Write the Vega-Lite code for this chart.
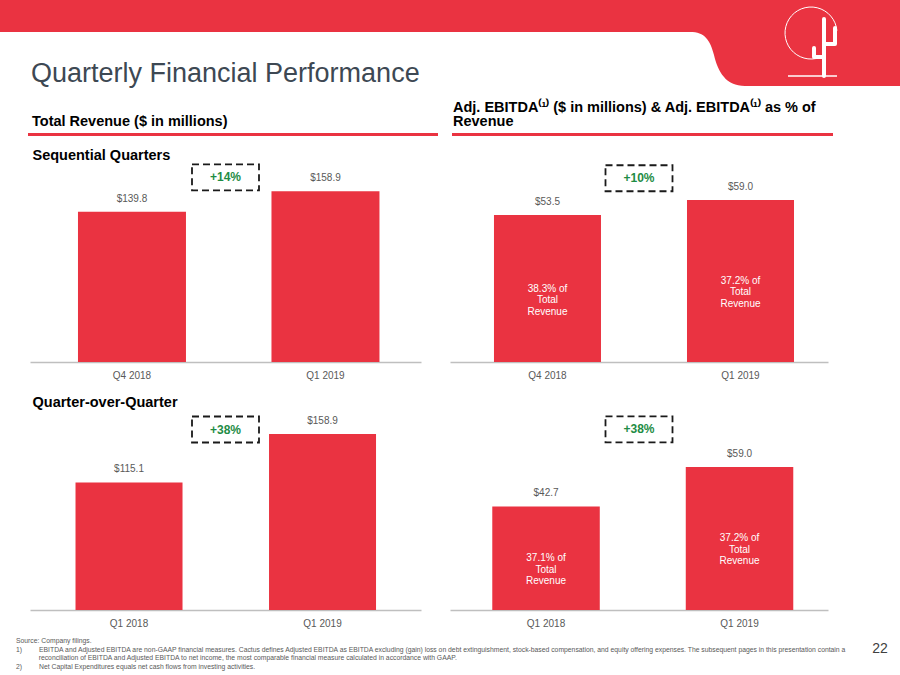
{
  "$schema": "https://vega.github.io/schema/vega-lite/v6.json",
  "padding": 0,
  "background": "white",
  "spacing": 0,
  "config": {
    "view": {"stroke": null},
    "font": "Liberation Sans",
    "text": {"fontSize": 0.1},
    "axisX": {"labelAngle": 0, "ticks": false, "tickSize": 0, "labelPadding": 8, "labelFontSize": 10, "labelColor": "#595959", "labelFont": "Liberation Sans", "domainColor": "#BFBFBF", "domainWidth": 1.5, "grid": false},
    "title": {"font": "Liberation Sans", "anchor": "start", "fontWeight": "bold", "color": "#000000"}
  },
  "vconcat": [
    {
      "hconcat": [
        {
          "width": 690, "height": 32,
          "view": {"fill": "#EA3341", "stroke": null},
          "data": {"values": [{}]},
          "mark": {"type": "text"},
          "encoding": {"text": {"value": ""}},
          "title": {"text": "Quarterly Financial Performance", "orient": "bottom", "anchor": "start", "baseline": "top", "frame": "group", "offset": 28.7, "dx": 31, "fontSize": 27, "fontWeight": "normal", "color": "#3D4853"}
        },
        {
          "width": 55, "height": 86,
          "data": {"values": [{}]},
          "mark": {"type": "point", "shape": "M-1,-1.5636L1,-1.5636L1,1.5636C0.309,1.5636 0.0182,1.0545 -0.1273,0.4364C-0.2727,-0.1091 -0.4545,-0.4 -1,-0.4Z", "size": 3025, "filled": true, "fill": "#EA3341", "strokeWidth": 0, "opacity": 1},
          "encoding": {}
        },
        {
          "width": 155, "height": 86,
          "view": {"fill": "#EA3341", "stroke": null},
          "data": {"values": [{}]},
          "layer": [
            {"mark": {"type": "point", "shape": "M-0.086,0.482A0.867,0.867 0 1 1 0.481,-0.409", "size": 3600, "filled": false, "stroke": "white", "strokeWidth": 1, "opacity": 1}, "encoding": {}},
            {"mark": {"type": "point", "shape": "M0.05,1.1L0.05,-0.8M0.05,0.033L0.417,0.033L0.417,-0.5M0.05,0.467L-0.283,0.467L-0.283,0.167", "size": 3600, "filled": false, "stroke": "white", "strokeWidth": 4, "strokeCap": "round", "strokeJoin": "round", "opacity": 1}, "encoding": {}},
            {"mark": {"type": "point", "shape": "M-1.15,1.1L0.483,1.1", "size": 3600, "filled": false, "stroke": "white", "strokeWidth": 1.5, "opacity": 1}, "encoding": {}}
          ]
        }
      ],
      "spacing": 0,
      "bounds": "flush"
    },
    {"width": 1, "height": 11.8, "data": {"values": [{}]}, "mark": {"type": "text"}, "encoding": {"text": {"value": ""}}},
    {
      "hconcat": [
        {"width": 28, "height": 3, "data": {"values": [{}]}, "mark": {"type": "text"}, "encoding": {"text": {"value": ""}}},
        {
          "width": 410, "height": 3,
          "view": {"fill": "#EA3341", "stroke": null},
          "data": {"values": [{}]},
          "mark": {"type": "text"},
          "encoding": {"text": {"value": ""}},
          "title": {"text": "Total Revenue ($ in millions)", "anchor": "start", "offset": 3.3, "dx": 4, "fontSize": 14.5, "fontWeight": "bold", "color": "#000000", "lineHeight": 14.5}
        },
        {"width": 14, "height": 3, "data": {"values": [{}]}, "mark": {"type": "text"}, "encoding": {"text": {"value": ""}}},
        {
          "width": 381, "height": 3,
          "view": {"fill": "#EA3341", "stroke": null},
          "data": {"values": [{}]},
          "mark": {"type": "text"},
          "encoding": {"text": {"value": ""}},
          "title": {"text": ["Adj. EBITDA⁽¹⁾ ($ in millions) & Adj. EBITDA⁽¹⁾ as % of", "Revenue"], "anchor": "start", "offset": 3.3, "dx": 1, "fontSize": 14.5, "fontWeight": "bold", "color": "#000000", "lineHeight": 14.5}
        }
      ],
      "spacing": 0,
      "bounds": "flush"
    },
    {"width": 1, "height": 11.2, "data": {"values": [{}]}, "mark": {"type": "text"}, "encoding": {"text": {"value": ""}}},
    {
      "hconcat": [
        {"width": 30, "height": 3, "data": {"values": [{}]}, "mark": {"type": "text"}, "encoding": {"text": {"value": ""}}},
        {
          "width": 391, "height": 198,
          "title": {"text": "Sequential Quarters", "offset": -2.9, "dx": 2.5, "fontSize": 14.5},
          "data": {"values": [{"quarter": "Q4 2018", "revenue": 139.8}, {"quarter": "Q1 2019", "revenue": 158.9}]},
          "layer": [
            {
              "mark": {"type": "bar", "color": "#EA3341"},
              "encoding": {
                "x": {"field": "quarter", "type": "nominal", "sort": null, "scale": {"paddingInner": 0.4419, "paddingOuter": 0.2313, "align": 0.536}, "axis": {"title": null}},
                "y": {"field": "revenue", "type": "quantitative", "scale": {"domain": [0, 184.2], "nice": false}, "axis": null}
              }
            },
            {
              "mark": {"type": "text", "baseline": "bottom", "dy": -8, "fontSize": 10, "color": "#595959"},
              "encoding": {
                "x": {"field": "quarter", "type": "nominal", "sort": null},
                "y": {"field": "revenue", "type": "quantitative"},
                "text": {"field": "revenue", "type": "quantitative", "format": "$.1f"}
              }
            },
            {
              "data": {"values": [{}]},
              "mark": {"type": "point", "shape": "M-1,-0.388L1,-0.388L1,0.388L-1,0.388Z", "size": 4489, "filled": false, "stroke": "#1A1A1A", "strokeWidth": 1.8, "strokeDash": [7, 4], "opacity": 1},
              "encoding": {"y": {"datum": 171.8, "type": "quantitative"}}
            },
            {
              "data": {"values": [{}]},
              "mark": {"type": "text", "text": "+14%", "fontSize": 12, "fontWeight": "bold", "color": "#1E8C45", "baseline": "middle"},
              "encoding": {"y": {"datum": 171.8, "type": "quantitative"}}
            }
          ]
        },
        {"width": 29, "height": 3, "data": {"values": [{}]}, "mark": {"type": "text"}, "encoding": {"text": {"value": ""}}},
        {
          "width": 378, "height": 198,
          "title": {"text": " ", "offset": -2.9, "fontSize": 14.5},
          "data": {"values": [{"quarter": "Q4 2018", "ebitda": 53.5, "margin": "38.3% of\nTotal\nRevenue"}, {"quarter": "Q1 2019", "ebitda": 59.0, "margin": "37.2% of\nTotal\nRevenue"}]},
          "resolve": {"scale": {"y": "independent"}},
          "layer": [
            {
              "mark": {"type": "bar", "color": "#EA3341"},
              "encoding": {
                "x": {"field": "quarter", "type": "nominal", "sort": null, "scale": {"paddingInner": 0.4456, "paddingOuter": 0.202, "align": 0.564}, "axis": {"title": null}},
                "y": {"field": "ebitda", "type": "quantitative", "scale": {"domain": [0, 72.08], "nice": false}, "axis": null}
              }
            },
            {
              "mark": {"type": "text", "baseline": "bottom", "dy": -8, "fontSize": 10, "color": "#595959"},
              "encoding": {
                "x": {"field": "quarter", "type": "nominal", "sort": null},
                "y": {"field": "ebitda", "type": "quantitative", "scale": {"domain": [0, 72.08], "nice": false}, "axis": null},
                "text": {"field": "ebitda", "type": "quantitative", "format": "$.1f"}
              }
            },
            {
              "mark": {"type": "text", "baseline": "middle", "fontSize": 10, "color": "#FFFFFF", "lineBreak": "\n", "lineHeight": 11.5},
              "encoding": {
                "x": {"field": "quarter", "type": "nominal", "sort": null},
                "y": {"field": "ebitda", "type": "quantitative", "scale": {"domain": [0, 144.16], "nice": false}, "axis": null},
                "text": {"field": "margin", "type": "nominal"}
              }
            },
            {
              "data": {"values": [{}]},
              "mark": {"type": "point", "shape": "M-1,-0.388L1,-0.388L1,0.388L-1,0.388Z", "size": 4489, "filled": false, "stroke": "#1A1A1A", "strokeWidth": 1.8, "strokeDash": [7, 4], "opacity": 1},
              "encoding": {"y": {"datum": 66.9, "type": "quantitative", "scale": {"domain": [0, 72.08], "nice": false}, "axis": null}}
            },
            {
              "data": {"values": [{}]},
              "mark": {"type": "text", "text": "+10%", "fontSize": 12, "fontWeight": "bold", "color": "#1E8C45", "baseline": "middle"},
              "encoding": {"y": {"datum": 66.9, "type": "quantitative", "scale": {"domain": [0, 72.08], "nice": false}, "axis": null}}
            }
          ]
        }
      ],
      "spacing": 0,
      "bounds": "flush"
    },
    {"width": 1, "height": 13.2, "data": {"values": [{}]}, "mark": {"type": "text"}, "encoding": {"text": {"value": ""}}},
    {
      "hconcat": [
        {"width": 30, "height": 3, "data": {"values": [{}]}, "mark": {"type": "text"}, "encoding": {"text": {"value": ""}}},
        {
          "width": 391, "height": 198,
          "title": {"text": "Quarter-over-Quarter", "offset": 2.0, "dx": 2.5, "fontSize": 14.5},
          "data": {"values": [{"quarter": "Q1 2018", "revenue": 115.1}, {"quarter": "Q1 2019", "revenue": 158.9}]},
          "layer": [
            {
              "mark": {"type": "bar", "color": "#EA3341"},
              "encoding": {
                "x": {"field": "quarter", "type": "nominal", "sort": null, "scale": {"paddingInner": 0.447, "paddingOuter": 0.2338, "align": 0.503}, "axis": {"title": null}},
                "y": {"field": "revenue", "type": "quantitative", "scale": {"domain": [0, 178.7], "nice": false}, "axis": null}
              }
            },
            {
              "mark": {"type": "text", "baseline": "bottom", "dy": -8, "fontSize": 10, "color": "#595959"},
              "encoding": {
                "x": {"field": "quarter", "type": "nominal", "sort": null},
                "y": {"field": "revenue", "type": "quantitative"},
                "text": {"field": "revenue", "type": "quantitative", "format": "$.1f"}
              }
            },
            {
              "data": {"values": [{}]},
              "mark": {"type": "point", "shape": "M-1,-0.388L1,-0.388L1,0.388L-1,0.388Z", "size": 4489, "filled": false, "stroke": "#1A1A1A", "strokeWidth": 1.8, "strokeDash": [7, 4], "opacity": 1},
              "encoding": {"y": {"datum": 162.9, "type": "quantitative"}}
            },
            {
              "data": {"values": [{}]},
              "mark": {"type": "text", "text": "+38%", "fontSize": 12, "fontWeight": "bold", "color": "#1E8C45", "baseline": "middle"},
              "encoding": {"y": {"datum": 162.9, "type": "quantitative"}}
            }
          ]
        },
        {"width": 29, "height": 3, "data": {"values": [{}]}, "mark": {"type": "text"}, "encoding": {"text": {"value": ""}}},
        {
          "width": 378, "height": 198,
          "title": {"text": " ", "offset": 2.0, "fontSize": 14.5},
          "data": {"values": [{"quarter": "Q1 2018", "ebitda": 42.7, "margin": "37.1% of\nTotal\nRevenue"}, {"quarter": "Q1 2019", "ebitda": 59.0, "margin": "37.2% of\nTotal\nRevenue"}]},
          "resolve": {"scale": {"y": "independent"}},
          "layer": [
            {
              "mark": {"type": "bar", "color": "#EA3341"},
              "encoding": {
                "x": {"field": "quarter", "type": "nominal", "sort": null, "scale": {"paddingInner": 0.4444, "paddingOuter": 0.199, "align": 0.549}, "axis": {"title": null}},
                "y": {"field": "ebitda", "type": "quantitative", "scale": {"domain": [0, 81.65], "nice": false}, "axis": null}
              }
            },
            {
              "mark": {"type": "text", "baseline": "bottom", "dy": -8, "fontSize": 10, "color": "#595959"},
              "encoding": {
                "x": {"field": "quarter", "type": "nominal", "sort": null},
                "y": {"field": "ebitda", "type": "quantitative", "scale": {"domain": [0, 81.65], "nice": false}, "axis": null},
                "text": {"field": "ebitda", "type": "quantitative", "format": "$.1f"}
              }
            },
            {
              "mark": {"type": "text", "baseline": "middle", "fontSize": 10, "color": "#FFFFFF", "lineBreak": "\n", "lineHeight": 11.5},
              "encoding": {
                "x": {"field": "quarter", "type": "nominal", "sort": null},
                "y": {"field": "ebitda", "type": "quantitative", "scale": {"domain": [0, 163.3], "nice": false}, "axis": null},
                "text": {"field": "margin", "type": "nominal"}
              }
            },
            {
              "data": {"values": [{}]},
              "mark": {"type": "point", "shape": "M-1,-0.388L1,-0.388L1,0.388L-1,0.388Z", "size": 4489, "filled": false, "stroke": "#1A1A1A", "strokeWidth": 1.8, "strokeDash": [7, 4], "opacity": 1},
              "encoding": {"y": {"datum": 74.5, "type": "quantitative", "scale": {"domain": [0, 81.65], "nice": false}, "axis": null}}
            },
            {
              "data": {"values": [{}]},
              "mark": {"type": "text", "text": "+38%", "fontSize": 12, "fontWeight": "bold", "color": "#1E8C45", "baseline": "middle"},
              "encoding": {"y": {"datum": 74.5, "type": "quantitative", "scale": {"domain": [0, 81.65], "nice": false}, "axis": null}}
            }
          ]
        }
      ],
      "spacing": 0,
      "bounds": "flush"
    },
    {
      "hconcat": [
        {"width": 16, "height": 1, "data": {"values": [{}]}, "mark": {"type": "text"}, "encoding": {"text": {"value": ""}}},
        {
          "width": 844, "height": 1,
          "data": {"values": [{}]},
          "mark": {"type": "text"},
          "encoding": {"text": {"value": ""}},
          "title": {
            "text": [
              "Source: Company filings.",
              "1)\u00a0\u00a0\u00a0\u00a0\u00a0\u00a0\u00a0\u00a0\u00a0EBITDA and Adjusted EBITDA are non-GAAP financial measures. Cactus defines Adjusted EBITDA as EBITDA excluding (gain) loss on debt extinguishment, stock-based compensation, and equity offering expenses. The subsequent pages in this presentation contain a",
              "\u200b\u00a0\u00a0\u00a0\u00a0\u00a0\u00a0\u00a0\u00a0\u00a0\u00a0\u00a0\u00a0reconciliation of EBITDA and Adjusted EBITDA to net income, the most comparable financial measure calculated in accordance with GAAP.",
              "2)\u00a0\u00a0\u00a0\u00a0\u00a0\u00a0\u00a0\u00a0\u00a0Net Capital Expenditures equals net cash flows from investing activities."
            ],
            "orient": "bottom", "anchor": "start", "baseline": "top", "offset": 9.2, "fontSize": 6.8, "fontWeight": "normal", "color": "#595959", "lineHeight": 8.5
          }
        },
        {
          "width": 40, "height": 42.4,
          "data": {"values": [{}]},
          "mark": {"type": "text", "text": "22", "fontSize": 14, "color": "#404040", "baseline": "middle"},
          "encoding": {}
        }
      ],
      "spacing": 0,
      "bounds": "flush"
    }
  ]
}
